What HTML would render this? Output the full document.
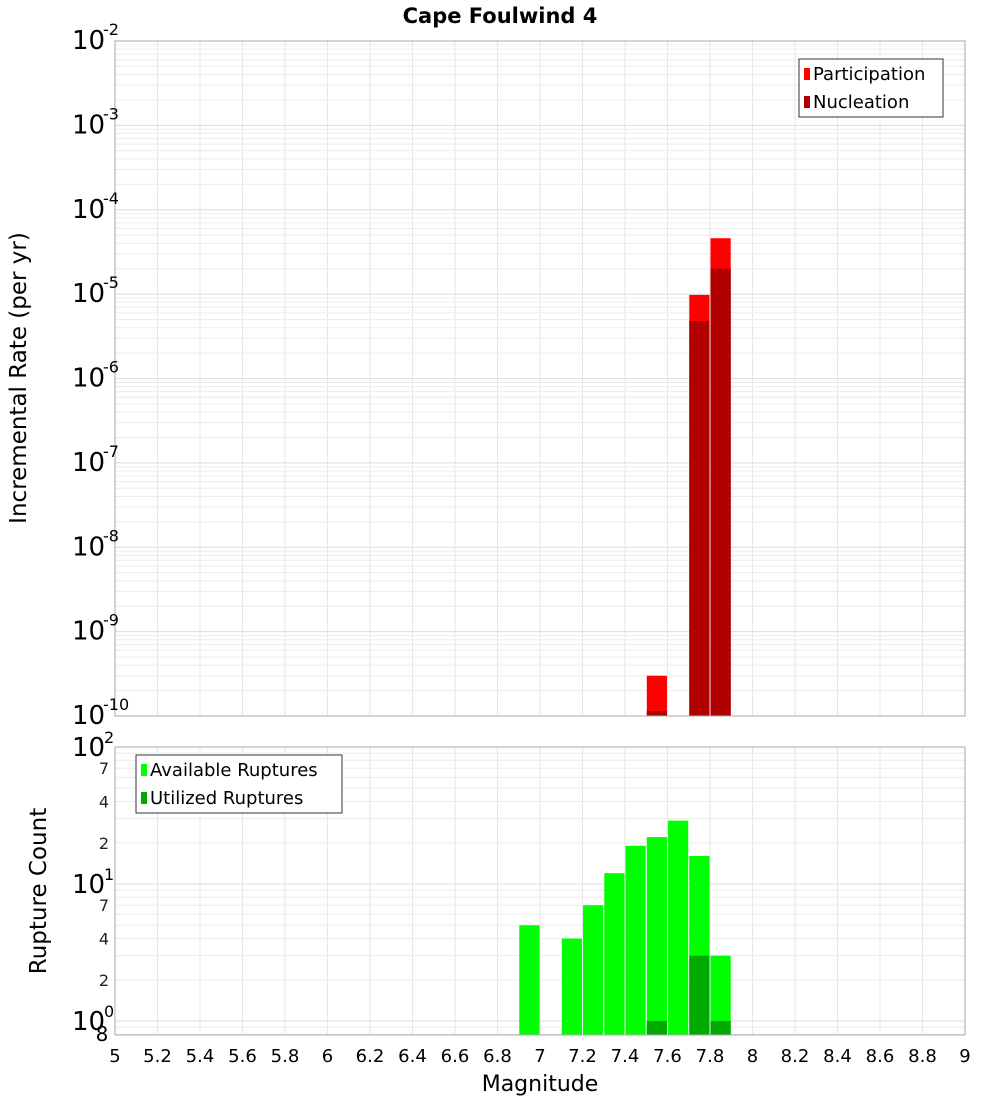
<!DOCTYPE html>
<html><head><meta charset="utf-8"><style>
body{margin:0;background:#fff}
svg text{font-family:"DejaVu Sans","Liberation Sans",sans-serif}
</style></head><body>
<svg id="c" width="1000" height="1100" xmlns="http://www.w3.org/2000/svg">
<text x="500" y="23" text-anchor="middle" font-size="21" font-weight="bold">Cape Foulwind 4</text>
<g id="g"></g>
</svg>
<script>
const mags = [6.95,7.15,7.25,7.35,7.45,7.55,7.65,7.75,7.85];
const participation = [0,0,0,0,0,3e-10,0,9.8e-6,4.6e-5];
const nucleation = [0,0,0,0,0,1.15e-10,0,4.8e-6,2.0e-5];
const available = [5,4,7,12,19,22,29,16,3];
const utilized = [0,0,0,0,0,1,0,3,1];
const xTicks = [5,5.2,5.4,5.6,5.8,6,6.2,6.4,6.6,6.8,7,7.2,7.4,7.6,7.8,8,8.2,8.4,8.6,8.8,9];
const topExps = [-10,-9,-8,-7,-6,-5,-4,-3,-2];
const botMinor = [2,4,7];

const NS="http://www.w3.org/2000/svg";
const g=document.getElementById('g');
function el(t,a,parent){const e=document.createElementNS(NS,t);for(const k in a)e.setAttribute(k,a[k]);(parent||g).appendChild(e);return e;}
const X0=115,X1=965;
const xs=m=>X0+(m-5)/4*(X1-X0);
const T0=41,T1=716;
const yt=v=>T1-(Math.log10(v)+10)/8*(T1-T0);
const B0=747,B1=1035;
const yb=v=>1021-Math.log10(v)*137;

// grids
function grid(top,bot,yfn,minVal,maxVal){
  for(const t of xTicks){const l=el('line',{x1:xs(t),x2:xs(t),y1:top,y2:bot,stroke:'#e6e6e6'});
  }
  for(let d=Math.floor(Math.log10(minVal));d<Math.log10(maxVal);d++){
    for(let k=1;k<10;k++){const v=k*Math.pow(10,d);if(v<minVal||v>maxVal)continue;
      const y=yfn(v);const l=el('line',{x1:X0,x2:X1,y1:y,y2:y,stroke:k==1?'#dcdcdc':'#ececec'});
      }
  }
}
grid(T0,T1,yt,1e-10,1e-2);
grid(B0,B1,yb,0.8,100);

// top bars
const bw=(xs(0.095)-xs(0));
mags.forEach((m,i)=>{
  if(participation[i]>0){const r=el('rect',{x:xs(m)-bw/2,y:yt(participation[i]),width:bw,height:T1-yt(participation[i]),fill:'#ff0000'});
  }
  if(nucleation[i]>0){const r=el('rect',{x:xs(m)-bw/2,y:yt(nucleation[i]),width:bw,height:T1-yt(nucleation[i]),fill:'#b00000'});
  }
  if(available[i]>0){const r=el('rect',{x:xs(m)-bw/2,y:yb(available[i]),width:bw,height:B1-yb(available[i]),fill:'#00ff00'});
  }
  if(utilized[i]>0){const r=el('rect',{x:xs(m)-bw/2,y:yb(utilized[i]),width:bw,height:B1-yb(utilized[i]),fill:'#00aa00'});
  }
});

// frames
let f=el('rect',{x:X0,y:T0,width:X1-X0,height:T1-T0,fill:'none',stroke:'#aaa'});

f=el('rect',{x:X0,y:B0,width:X1-X0,height:B1-B0,fill:'none',stroke:'#aaa'});


// top y labels
topExps.forEach(e=>{
  const y=yt(Math.pow(10,e));
  const t=el('text',{x:72,y:y+8,'font-size':26});
  
  t.textContent='10';
  const s=el('text',{x:103,y:y-6,'font-size':16});
  
  s.textContent=String(e);
});
// bottom y labels
[[0,1021],[1,884],[2,747]].forEach(([e,y])=>{
  const t=el('text',{x:72,y:y+9,'font-size':26});
  
  t.textContent='10';
  const s=el('text',{x:104,y:y-4,'font-size':16});
  
  s.textContent=String(e);
});
[1,10].forEach(d=>botMinor.forEach(k=>{
  const t=el('text',{x:104,y:yb(k*d)+6,'font-size':16,'text-anchor':'middle',fill:'#222'});
  
  t.textContent=String(k);
}));
let t8=el('text',{x:102,y:1041,'font-size':20,'text-anchor':'middle'});
t8.textContent='8';

// x labels
xTicks.forEach(v=>{
  const t=el('text',{x:xs(v),y:1062,'font-size':18,'text-anchor':'middle'});
  
  t.textContent=String(v);
});
let xt=el('text',{x:540,y:1091,'font-size':22,'text-anchor':'middle'});
xt.textContent='Magnitude';
let y1=el('text',{x:0,y:0,'font-size':23,'text-anchor':'middle',transform:'translate(26,378) rotate(-90)'});
y1.textContent='Incremental Rate (per yr)';
let y2=el('text',{x:0,y:0,'font-size':23,'text-anchor':'middle',transform:'translate(46,891) rotate(-90)'});
y2.textContent='Rupture Count';

// legends
function legend(x,y,w,items,name){
  const gg=el('g',{});
  el('rect',{x:x,y:y,width:w,height:58,fill:'#fff',stroke:'#333'},gg);
  items.forEach(([c,l],i)=>{
    el('rect',{x:x+5,y:y+9+i*28,width:6,height:12,fill:c},gg);
    const t=el('text',{x:x+14,y:y+21+i*28,'font-size':18},gg);t.textContent=l;
  });
}
legend(799,59,144,[['#ff0000','Participation'],['#b00000','Nucleation']],'top-legend');
legend(136,755,206,[['#00ff00','Available Ruptures'],['#00aa00','Utilized Ruptures']],'bottom-legend');
</script>
</body></html>
